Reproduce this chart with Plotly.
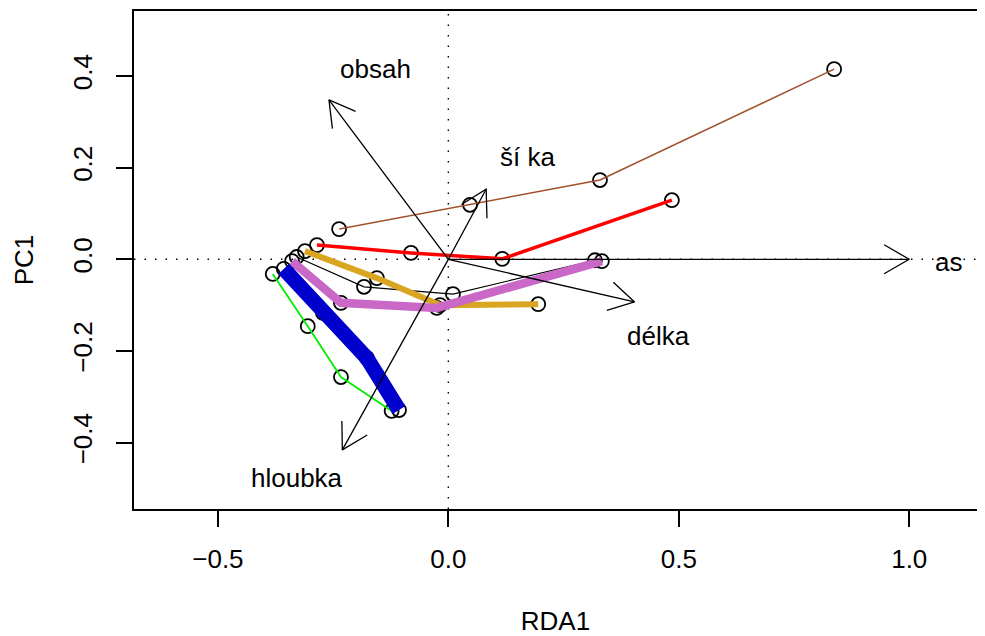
import math
import plotly.graph_objects as go

# ---- data ----
black_x = [-0.329, -0.183, 0.010, 0.318]
black_y = [0.005, -0.060, -0.076, -0.002]
brown_x = [-0.237, 0.047, 0.329, 0.837]
brown_y = [0.066, 0.119, 0.173, 0.415]
green_x = [-0.381, -0.305, -0.233, -0.123]
green_y = [-0.032, -0.146, -0.257, -0.331]
red_x = [-0.285, -0.081, 0.117, 0.485]
red_y = [0.031, 0.014, 0.001, 0.129]
gold_x = [-0.311, -0.155, -0.018, 0.195]
gold_y = [0.018, -0.041, -0.100, -0.098]
purple_x = [-0.339, -0.233, -0.025, 0.333]
purple_y = [-0.004, -0.095, -0.106, -0.004]
blue_x = [-0.357, -0.272, -0.177, -0.107]
blue_y = [-0.021, -0.117, -0.215, -0.329]

arrow_names = ["as", "délka", "ší ka", "obsah", "hloubka"]
arrow_x = [1.0, 0.404, 0.082, -0.259, -0.230]
arrow_y = [0.0, -0.093, 0.153, 0.348, -0.416]
label_x = [1.085, 0.455, 0.171, -0.159, -0.329]
label_y = [-0.006, -0.167, 0.223, 0.415, -0.478]

x_ticks = [-0.5, 0.0, 0.5, 1.0]
y_ticks = [-0.4, -0.2, 0.0, 0.2, 0.4]

# ---- layout constants (page body has an 8px margin) ----
W, H = 977, 628
ML, MR, MT, MB = 126, 8, 3, 127
XR = [-0.682, 1.147]
YR = [-0.545, 0.542]
FONT = "Liberation Sans, Arial, Helvetica, sans-serif"
FS = 26

kx = (W - ML - MR) / (XR[1] - XR[0])
ky = (H - MT - MB) / (YR[1] - YR[0])

series = [
    (black_x, black_y, "black", 1.2),
    (brown_x, brown_y, "#A0522D", 1.5),
    (green_x, green_y, "#00EE00", 1.8),
    (red_x, red_y, "#FF0000", 3.5),
    (gold_x, gold_y, "#DAA520", 6),
    (purple_x, purple_y, "#C968C6", 8.5),
    (blue_x, blue_y, "#0000CD", 15),
]

fig = go.Figure()

# circles first (lines drawn over them)
for sx, sy, col, lw in series:
    fig.add_trace(go.Scatter(
        x=sx, y=sy, mode="markers",
        marker=dict(symbol="circle-open", size=14, color="black",
                    line=dict(width=1.8, color="black")),
        hoverinfo="skip", showlegend=False))

for sx, sy, col, lw in series:
    fig.add_trace(go.Scatter(
        x=sx, y=sy, mode="lines",
        line=dict(color=col, width=lw),
        hoverinfo="skip", showlegend=False))

# biplot arrows with open heads
head_len = 29.0
head_ang = math.radians(30)
ax_pts, ay_pts = [], []
for tx, ty in zip(arrow_x, arrow_y):
    ax_pts += [0, tx, None]
    ay_pts += [0, ty, None]
    dx, dy = tx * kx, ty * ky
    L = math.hypot(dx, dy)
    ux, uy = -dx / L, -dy / L
    hx, hy = [], []
    for s in (1, -1):
        c, sn = math.cos(s * head_ang), math.sin(s * head_ang)
        rx = ux * c - uy * sn
        ry = ux * sn + uy * c
        hx.append(tx + rx * head_len / kx)
        hy.append(ty + ry * head_len / ky)
    ax_pts += [hx[0], tx, hx[1], None]
    ay_pts += [hy[0], ty, hy[1], None]

fig.add_trace(go.Scatter(
    x=ax_pts, y=ay_pts, mode="lines",
    line=dict(color="black", width=1.3),
    hoverinfo="skip", showlegend=False))

for name, lx, ly in zip(arrow_names, label_x, label_y):
    fig.add_annotation(x=lx, y=ly, text=name, showarrow=False,
                       xanchor="center", yanchor="middle",
                       font=dict(family=FONT, size=FS, color="black"))

# dotted reference lines
fig.add_hline(y=0, line=dict(color="black", width=1.4, dash="1.5px,9px"), layer="below")
fig.add_vline(x=0, line=dict(color="black", width=1.4, dash="1.5px,9px"), layer="below")

axis_common = dict(
    showgrid=False, zeroline=False, showline=True, mirror=True,
    linecolor="black", linewidth=1.5,
    ticks="outside", ticklen=16, tickwidth=1.5, tickcolor="black",
    tickformat=".1f", automargin=False,
    tickfont=dict(family=FONT, size=FS, color="black"),
)

fig.update_layout(
    width=W, height=H,
    margin=dict(l=ML, r=MR, t=MT, b=MB, autoexpand=False),
    paper_bgcolor="white", plot_bgcolor="white",
    font=dict(family=FONT, size=FS, color="black"),
    xaxis=dict(range=XR, tickvals=x_ticks, ticklabelstandoff=10,
               title=dict(text="RDA1", standoff=39,
                          font=dict(family=FONT, size=FS)),
               **axis_common),
    yaxis=dict(range=YR, tickvals=y_ticks, tickangle=-90, ticklabelstandoff=14,
               title=dict(text="PC1", standoff=27,
                          font=dict(family=FONT, size=FS)),
               **axis_common),
)

fig.write_html("out.html")
